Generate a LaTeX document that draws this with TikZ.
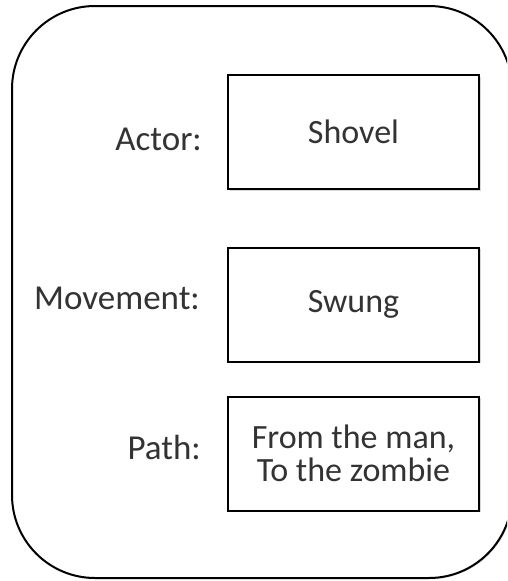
\documentclass[tikz,border=0pt]{standalone}
\usepackage{fontspec}
\setmainfont{Carlito}
\usetikzlibrary{shadows}
\tikzset{
  frame/.style={draw=black, line width=2pt, rounded corners=83pt,
    drop shadow={shadow xshift=1.2pt, shadow yshift=-1.2pt, opacity=0.25}},
  slot/.style={draw=black, line width=2pt, fill=white, minimum width=251pt, minimum height=114pt,
    inner sep=0pt, align=center, text=black!80, font=\fontsize{34}{33}\selectfont,
    drop shadow={shadow xshift=1.5pt, shadow yshift=-1.5pt, opacity=0.3}},
  lbl/.style={anchor=base east, inner sep=0pt, text=black!80, font=\fontsize{35}{35}\selectfont}
}
\begin{document}
\begin{tikzpicture}[x=1pt,y=-1pt]
  \useasboundingbox (0,0) rectangle (507,581);
  \clip (0,0) rectangle (507,581);
  \fill[white] (0,0) rectangle (507,581);
  % outer rounded frame
  \draw[frame, fill=white] (12,6) rectangle (512,578);
  % value boxes
  \node[slot] (actorbox) at (353.5,132) {Shovel};
  \node[slot] (movebox) at (353.5,304.5) {Swung};
  \node[slot] (pathbox) at (353.5,453.5) {From the man,\\To the zombie};
  % labels
  \node[lbl] (actorlbl) at (202,150) {Actor:};
  \node[lbl] (movelbl) at (200,309) {Movement:};
  \node[lbl] (pathlbl) at (201,459) {Path:};
\end{tikzpicture}
\end{document}
